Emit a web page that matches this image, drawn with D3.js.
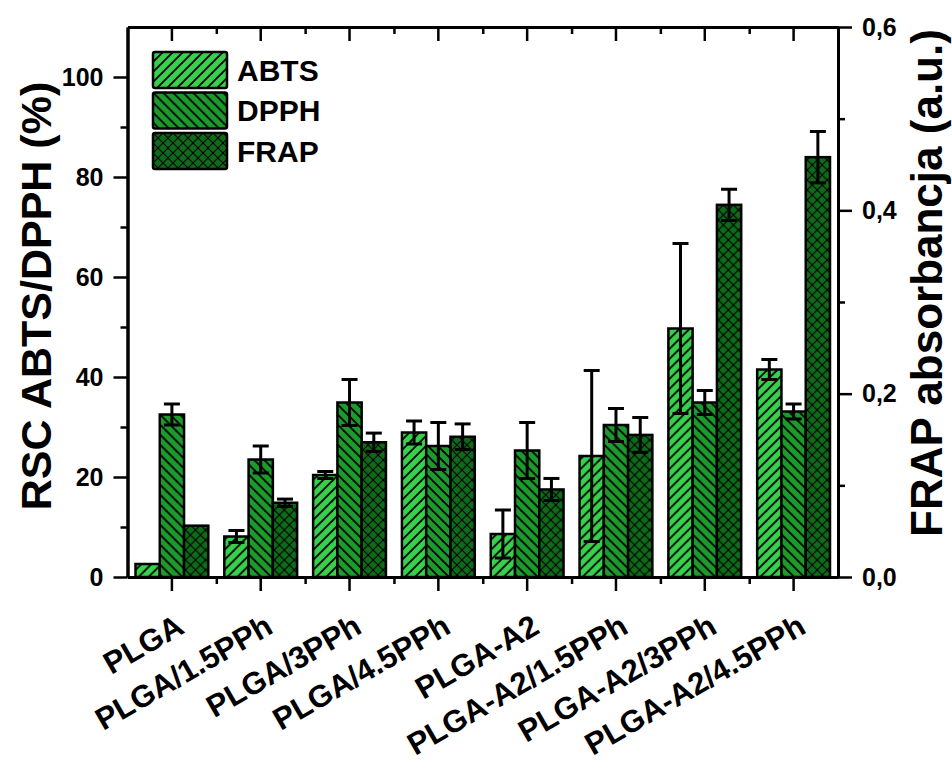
<!DOCTYPE html>
<html>
<head>
<meta charset="utf-8">
<script src="https://cdn.jsdelivr.net/npm/d3@7"></script>
<style>
  html, body { margin: 0; padding: 0; background: #fff; }
  svg { display: block; font-family: "Liberation Sans", Arial, sans-serif; font-weight: bold; }
</style>
</head>
<body>
<svg id="chart" width="952" height="765"></svg>
<script>
// ---- data ----
const categories = ["PLGA", "PLGA/1.5PPh", "PLGA/3PPh", "PLGA/4.5PPh", "PLGA-A2", "PLGA-A2/1.5PPh", "PLGA-A2/3PPh", "PLGA-A2/4.5PPh"];
const seriesNames = ["ABTS", "DPPH", "FRAP"];
const abtsValues = [2.6, 8.1, 20.4, 28.9, 8.6, 24.2, 49.7, 41.5];
const abtsErrors = [0, 1.2, 0.7, 2.3, 4.8, 17.1, 17.0, 2.0];
const dpphValues = [32.5, 23.5, 34.9, 26.2, 25.3, 30.4, 34.9, 33.1];
const dpphErrors = [2.1, 2.7, 4.6, 4.7, 5.6, 3.3, 2.4, 1.5];
const frapValues = [0.056, 0.081, 0.147, 0.153, 0.0955, 0.155, 0.406, 0.458];
const frapErrors = [0, 0.004, 0.010, 0.014, 0.012, 0.019, 0.017, 0.028];
const leftTicks = [0, 20, 40, 60, 80, 100];
const rightTicks = [0, 0.2, 0.4, 0.6];
const rightTickLabels = ["0,0", "0,2", "0,4", "0,6"];
const leftTitle = "RSC ABTS/DPPH (%)";
const rightTitle = "FRAP absorbancja (a.u.)";

const colors = {ABTS: "#38cf4c", DPPH: "#1c9b2c", FRAP: "#0d6b19"};

// ---- layout ----
const svg = d3.select("#chart");
const L = 127.5, R = 838, T = 27, B = 577;

const x0 = d3.scaleBand().domain(categories).range([L, R]).padding(0);
const groupW = x0.bandwidth() * 0.82;
const x1 = d3.scaleBand().domain(seriesNames).range([0, groupW]).padding(0);
const yL = d3.scaleLinear().domain([0, 110]).range([B, T]);
const yR = d3.scaleLinear().domain([0, 0.6]).range([B, T]);

// ---- patterns ----
const defs = svg.append("defs");
function pattern(id, color, paths, sw) {
  const p = defs.append("pattern").attr("id", id).attr("patternUnits", "userSpaceOnUse")
    .attr("width", 10).attr("height", 10);
  p.append("rect").attr("width", 10).attr("height", 10).attr("fill", color);
  paths.forEach(d => p.append("path").attr("d", d).attr("stroke", "#000").attr("stroke-width", sw).attr("fill", "none"));
}
pattern("pABTS", colors.ABTS, ["M-1,11 L11,-1", "M-6,6 L6,-6", "M4,16 L16,4"], 1.8);
pattern("pDPPH", colors.DPPH, ["M-1,-1 L11,11", "M-6,4 L6,16", "M4,-6 L16,6"], 1.8);
pattern("pFRAP", colors.FRAP, ["M-1,11 L11,-1", "M-6,6 L6,-6", "M4,16 L16,4", "M-1,-1 L11,11", "M-6,4 L6,16", "M4,-6 L16,6"], 1.1);

// ---- data rows ----
const rows = categories.map((c, i) => ({
  cat: c,
  items: [
    {s: "ABTS", err: abtsErrors[i], y: yL(abtsValues[i]), yHi: yL(abtsValues[i] + abtsErrors[i]), yLo: yL(abtsValues[i] - abtsErrors[i])},
    {s: "DPPH", err: dpphErrors[i], y: yL(dpphValues[i]), yHi: yL(dpphValues[i] + dpphErrors[i]), yLo: yL(dpphValues[i] - dpphErrors[i])},
    {s: "FRAP", err: frapErrors[i], y: yR(frapValues[i]), yHi: yR(frapValues[i] + frapErrors[i]), yLo: yR(frapValues[i] - frapErrors[i])}
  ]
}));

const groups = svg.append("g").selectAll("g").data(rows).join("g")
  .attr("transform", d => `translate(${x0(d.cat) + (x0.bandwidth() - groupW) / 2},0)`);

groups.selectAll("rect").data(d => d.items).join("rect")
  .attr("x", d => x1(d.s))
  .attr("y", d => d.y)
  .attr("width", x1.bandwidth())
  .attr("height", d => B - d.y)
  .attr("fill", d => `url(#p${d.s})`)
  .attr("stroke", "#000").attr("stroke-width", 2.5);

const cap = 8;
const eb = groups.selectAll("g.eb").data(d => d.items.filter(e => e.err > 0)).join("g").attr("class", "eb")
  .attr("stroke", "#000").attr("stroke-width", 3);
eb.append("line").attr("x1", d => x1(d.s) + x1.bandwidth() / 2).attr("x2", d => x1(d.s) + x1.bandwidth() / 2)
  .attr("y1", d => d.yHi).attr("y2", d => d.yLo);
eb.append("line").attr("x1", d => x1(d.s) + x1.bandwidth() / 2 - cap).attr("x2", d => x1(d.s) + x1.bandwidth() / 2 + cap)
  .attr("y1", d => d.yHi).attr("y2", d => d.yHi);
eb.append("line").attr("x1", d => x1(d.s) + x1.bandwidth() / 2 - cap).attr("x2", d => x1(d.s) + x1.bandwidth() / 2 + cap)
  .attr("y1", d => d.yLo).attr("y2", d => d.yLo);

// ---- axes ----
const axisW = 3, major = 14, minor = 7;
function styleAxis(g) {
  g.selectAll("path.domain").attr("stroke", "#000").attr("stroke-width", axisW);
  g.selectAll(".tick line").attr("stroke", "#000").attr("stroke-width", 2.5);
  g.selectAll("text").attr("font-family", "Liberation Sans, Arial, sans-serif").attr("font-weight", "bold").attr("fill", "#000");
}

// left
const leftMinor = d3.range(10, 110, 20);
svg.append("g").attr("transform", `translate(${L},0)`)
  .call(d3.axisLeft(yL).tickValues(leftMinor).tickSize(minor).tickSizeOuter(0).tickFormat(""))
  .call(styleAxis);
svg.append("g").attr("transform", `translate(${L},0)`)
  .call(d3.axisLeft(yL).tickValues(leftTicks).tickSize(major).tickSizeOuter(0).tickPadding(10))
  .call(styleAxis)
  .selectAll("text").attr("font-size", 25);

// right
svg.append("g").attr("transform", `translate(${R},0)`)
  .call(d3.axisRight(yR).tickValues([0.1, 0.3, 0.5]).tickSize(minor).tickSizeOuter(0).tickFormat(""))
  .call(styleAxis);
svg.append("g").attr("transform", `translate(${R},0)`)
  .call(d3.axisRight(yR).tickValues(rightTicks).tickSize(major).tickSizeOuter(0).tickPadding(10)
    .tickFormat((d, i) => rightTickLabels[i]))
  .call(styleAxis)
  .selectAll("text").attr("font-size", 25);

// bottom
const boundaries = d3.range(0, categories.length + 1).map(i => L + i * x0.bandwidth());
const xLin = d3.scaleLinear().domain([L, R]).range([L, R]);
svg.append("g").attr("transform", `translate(0,${B})`)
  .call(d3.axisBottom(xLin).tickValues(boundaries.slice(1, -1)).tickSize(minor).tickSizeOuter(0).tickFormat(""))
  .call(styleAxis);
const bottomAxis = svg.append("g").attr("transform", `translate(0,${B})`)
  .call(d3.axisBottom(x0).tickSize(major).tickSizeOuter(0))
  .call(styleAxis);
bottomAxis.selectAll(".tick text")
  .attr("font-size", 31)
  .attr("text-anchor", "end")
  .attr("dy", null)
  .attr("y", null)
  .attr("transform", "translate(14,55) rotate(-30)");

// top
svg.append("g").attr("transform", `translate(0,${T})`)
  .call(d3.axisBottom(xLin).tickValues(boundaries.slice(1, -1)).tickSize(minor).tickSizeOuter(0).tickFormat(""))
  .call(styleAxis);
svg.append("g").attr("transform", `translate(0,${T})`)
  .call(d3.axisBottom(x0).tickSize(major).tickSizeOuter(0).tickFormat(""))
  .call(styleAxis);

// ---- titles ----
svg.append("text").attr("transform", `translate(36,296) rotate(-90)`)
  .attr("text-anchor", "middle").attr("dominant-baseline", "central")
  .attr("font-size", 43).text(leftTitle);
svg.append("text").attr("transform", `translate(926,283) rotate(-90)`)
  .attr("text-anchor", "middle").attr("dominant-baseline", "central")
  .attr("font-size", 44).text(rightTitle);

// ---- legend ----
const legend = svg.append("g").attr("transform", "translate(153,52)");
const li = legend.selectAll("g").data(seriesNames).join("g")
  .attr("transform", (d, i) => `translate(0,${i * 40.5})`);
li.append("rect").attr("width", 74).attr("height", 36).attr("rx", 2)
  .attr("fill", d => `url(#p${d})`).attr("stroke", "#000").attr("stroke-width", 2.5);
li.append("text").attr("x", 84).attr("y", 18).attr("dominant-baseline", "central")
  .attr("font-size", 30).text(d => d);
</script>
</body>
</html>
